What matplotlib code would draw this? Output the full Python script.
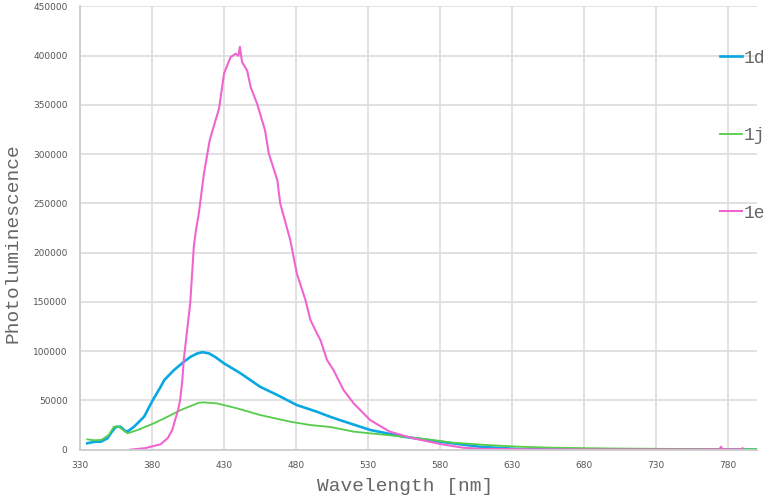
import numpy as np
import matplotlib
matplotlib.use("Agg")
import matplotlib.pyplot as plt

# values (wavelength in nm, photoluminescence counts)
wl_1d = [335, 340, 344.5, 349, 352, 355, 358, 362, 364, 367.5, 374.5, 380, 386, 388.5,
         395, 402, 407, 411.5, 415, 419.5, 424, 430, 441.5, 455, 467, 480.5, 494.5,
         503.5, 510.5, 531.5, 554.5, 580, 607.5, 635, 660, 700, 750, 800]
pl_1d = [6500, 8000, 8100, 11500, 18000, 23300, 23300, 18300, 19500, 23300, 33500, 49000,
         63900, 70700, 80500, 89200, 94500, 97800, 99000, 97800, 94000, 87600, 77500,
         63900, 55500, 45300, 38500, 33500, 30000, 20000, 13200, 8100, 3000, 600, 300,
         200, 150, 100]

wl_1j = [335, 340, 345, 350, 353.5, 357, 363, 370, 380, 388.5, 400, 412.5, 416, 425,
         439, 455, 476, 490, 497, 504, 520, 543, 566, 589, 612, 635, 658, 700, 750, 800]
pl_1j = [10500, 9500, 10000, 15000, 23300, 23300, 16600, 20000, 26000, 31800, 40300,
         47700, 48000, 47000, 42000, 35200, 28400, 25000, 24000, 23000, 18300, 14900,
         11500, 7100, 4800, 3000, 2000, 1200, 700, 500]

wl_1e = [365, 375, 386, 391, 394, 398, 399.5, 401, 402, 406.5, 409, 410.5, 412.5, 416,
         420, 424, 426.5, 430, 434.5, 438, 440, 441, 442.5, 446, 448.5, 453, 458.5, 461,
         467, 469, 473.5, 476, 480.5, 486.5, 490, 494.5, 497, 501.5, 506, 513, 520, 531.5,
         545, 561.5, 580, 596, 610, 650, 700, 760, 774, 775, 776, 789, 790]
pl_1e = [0, 1500, 5500, 12000, 20000, 40000, 50400, 70000, 91000, 148500, 206000, 223000,
         240000, 280000, 314000, 334000, 346000, 382000, 398500, 402000, 400000, 409000,
         393500, 385000, 368000, 351000, 324000, 301000, 273500, 250000, 226000, 212700,
         179000, 152000, 131500, 118000, 111000, 91000, 80800, 60500, 47000, 30000,
         18300, 11500, 5800, 2000, 800, 300, 200, 200, 400, 3000, 400, 300, 1500]

series = [("1d", wl_1d, pl_1d, "#0aa8e2", 1.9),
          ("1j", wl_1j, pl_1j, "#55cc4a", 1.3),
          ("1e", wl_1e, pl_1e, "#f064d2", 1.5)]

xticks = np.arange(330, 781, 50)
yticks = np.arange(0, 450001, 50000)

fig = plt.figure(figsize=(7.74, 4.97), dpi=100)
ax = fig.add_axes([0.1034, 0.0952, 0.8746, 0.8918])

for name, x, y, c, lw in series:
    ax.plot(x, y, color=c, lw=lw, label=name)

ax.set_xlim(330, 800)
ax.set_ylim(0, 450000)
ax.set_xticks(xticks)
ax.set_yticks(yticks)
ax.set_xticklabels([str(v) for v in xticks])
ax.set_yticklabels([str(v) for v in yticks])
ax.tick_params(length=0, labelsize=6.5, labelcolor="#555555")
ax.tick_params(axis="y", pad=9)
ax.tick_params(axis="x", pad=8)
ax.grid(True, color="#dedede", lw=1.3)
ax.set_axisbelow(True)
for s in ["top", "right"]:
    ax.spines[s].set_visible(False)
for s in ["left", "bottom"]:
    ax.spines[s].set_color("#cccccc")
    ax.spines[s].set_linewidth(1.3)

mono = "Liberation Mono"
ax.set_xlabel("Wavelength [nm]", fontsize=14, family=mono, color="#666666")
ax.set_ylabel("Photoluminescence", fontsize=14, family=mono, color="#666666")
ax.xaxis.set_label_coords(0.48, -0.065)
ax.yaxis.set_label_coords(-0.087, 0.465)

leg = fig.legend(loc="upper left", bbox_to_anchor=(0.930, 0.900), frameon=False,
                 borderpad=0, borderaxespad=0, handlelength=1.25, handletextpad=0.1,
                 labelspacing=3.35, prop={"family": mono, "size": 13})
for t in leg.get_texts():
    t.set_color("#666666")

fig.savefig("out.png", dpi=100)
